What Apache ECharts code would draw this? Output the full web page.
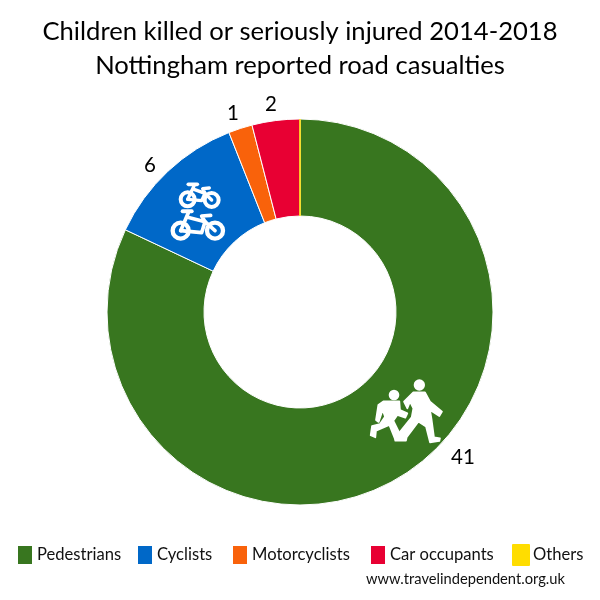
<!DOCTYPE html>
<html><head><meta charset="utf-8">
<style>html,body{margin:0;padding:0;background:#fff}#c{width:600px;height:600px}</style>
<script src="https://cdn.jsdelivr.net/npm/echarts@6/dist/echarts.min.js"></script>
</head><body><div id="c"></div>
<script>
const categories = ['Pedestrians','Cyclists','Motorcyclists','Car occupants','Others'];
const values = [41,6,1,2,0];
const colors = ['#38761f','#0068c8','#f9620b','#e80033','#ffdd00'];
const labelAnchors = [[463,457],[150,165],[233,113],[271,104],null];
const legendLefts = [16,136,231,369,512];
const titleLines = 'Children killed or seriously injured 2014-2018\nNottingham reported road casualties';
const credit = 'www.travelindependent.org.uk';
const FONT = 'Lato';

const chart = echarts.init(document.getElementById('c'));
const Z = 20;
function ring(cx,cy,r,w){return {type:'circle',z:Z,shape:{cx,cy,r},style:{fill:'none',stroke:'#fff',lineWidth:w}};}
function stroke(points,w){return {type:'polyline',z:Z,shape:{points},style:{fill:'none',stroke:'#fff',lineWidth:w,lineJoin:'round',lineCap:'round'}};}
function fill(points){return {type:'polygon',z:Z,shape:{points},style:{fill:'#fff',stroke:'#fff',lineWidth:5,lineJoin:'round'}};}
chart.setOption({
  animation:false,
  backgroundColor:'#fff',
  title:{text:titleLines,left:'center',top:10,textStyle:{fontFamily:FONT,fontSize:25.6,fontWeight:'normal',color:'#000',lineHeight:34}},
  legend:categories.map((n,i)=>({
    data:[n],left:legendLefts[i],top:544,itemWidth:16,itemHeight:20,itemGap:0,icon:'rect',padding:0,
    selectedMode:false,textStyle:{fontFamily:FONT,fontSize:16.6,color:'#111',padding:[0,0,4,-1]}
  })),
  color:colors,
  series:[{
    type:'pie',center:[300,312],radius:[96,193],startAngle:90,clockwise:true,
    silent:true,avoidLabelOverlap:false,stillShowZeroSum:true,
    itemStyle:{borderColor:'#fff',borderWidth:1},
    label:{show:true,position:'outside',fontFamily:FONT,fontSize:20.5,color:'#000',formatter:p=>p.value?String(p.value):''},
    labelLine:{show:false},
    labelLayout:p=>{const a=labelAnchors[p.dataIndex];return a?{x:a[0],y:a[1],align:'center',verticalAlign:'middle'}:{};},
    data:categories.map((name,i)=>({name,value:values[i],
      itemStyle:i===4?{borderColor:'#ffdd00',borderWidth:1}:undefined}))
  }],
  graphic:[
    {type:'text',left:366,top:572,style:{text:credit,fontFamily:FONT,fontSize:14.7,fill:'#111'}},
    {type:'group',x:120,y:90,scaleX:1/3,scaleY:1/3,silent:true,children:[
      ring(203,328,21,12),ring(275,330,21,12),
      stroke([[203,328],[222,288]],10),stroke([[205,283],[232,283]],11),
      stroke([[222,298],[255,310],[275,330]],10),
      stroke([[203,328],[245,332],[255,310],[248,296],[268,294]],10),
      ring(182,422,24,13),ring(285,422,24,13),
      stroke([[182,422],[205,368]],11),stroke([[188,364],[215,364]],12),
      stroke([[203,382],[255,395],[285,422]],11),
      stroke([[182,422],[245,428],[255,395],[245,378],[272,376]],11)
    ]},
    {type:'group',x:350,y:360,scaleX:1/3,scaleY:1/3,silent:true,children:[
      {type:'circle',z:Z,shape:{cx:208,cy:75,r:17},style:{fill:'#fff'}},
      {type:'circle',z:Z,shape:{cx:132,cy:105,r:16},style:{fill:'#fff'}},
      fill([[190,97],[225,97],[240,125],[276,155],[268,168],[240,150],[245,180],[252,232],[270,235],[268,243],[240,247],[228,200],[205,185],[170,232],[168,242],[136,242],[136,232],[150,215],[185,172],[190,145],[180,125],[172,145],[162,125]]),
      fill([[100,124],[148,124],[150,150],[172,160],[166,173],[142,165],[130,182],[150,222],[150,240],[136,240],[118,195],[78,212],[76,232],[62,226],[66,198],[90,192],[105,170],[98,150],[86,186],[78,180],[85,135]])
    ]}
  ]
});
</script></body></html>
